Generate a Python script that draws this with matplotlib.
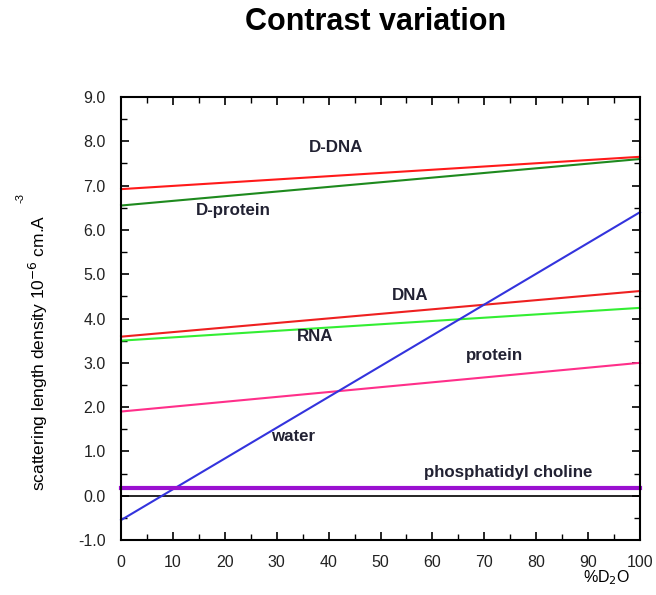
import matplotlib
matplotlib.use('Agg')
import matplotlib.pyplot as plt
from matplotlib.ticker import MultipleLocator, FormatStrFormatter

plt.rcParams['font.family'] = ['Liberation Sans', 'DejaVu Sans']

# %D2O at the two ends of each line
d2o = [0, 100]

names = ['D-DNA', 'D-protein', 'DNA', 'RNA', 'protein', 'water', 'phosphatidyl choline']
sld_0 = [6.92, 6.55, 3.59, 3.50, 1.90, -0.55, 0.18]
sld_100 = [7.65, 7.60, 4.62, 4.24, 3.00, 6.40, 0.18]
colors = ['#ff1a1a', '#1e8a1e', '#ee2020', '#33ee33', '#ff2f8a', '#3333dd', '#9a10d0']
widths = [1.5, 1.5, 1.5, 1.5, 1.5, 1.5, 3.0]

# where the name of each line is written (data coords)
label_x = [41.4, 21.6, 55.7, 37.4, 72.0, 33.1, 74.6]
label_y = [7.86, 6.43, 4.51, 3.59, 3.16, 1.33, 0.52]

fig = plt.figure(figsize=(6.56, 5.95), dpi=100)
ax = fig.add_axes([0.1845, 0.0924, 0.7911, 0.7446])

ax.axhline(0, color='black', lw=1.2, zorder=1)

for n, a, b, c, w in zip(names, sld_0, sld_100, colors, widths):
    ax.plot(d2o, [a, b], color=c, lw=w, zorder=2, clip_on=False)

for n, x, y in zip(names, label_x, label_y):
    ax.text(x, y, n, ha='center', va='center', fontsize=12.2, fontweight='bold',
            color='#222233')

ax.set_xlim(0, 100)
ax.set_ylim(-1, 9)
ax.xaxis.set_major_locator(MultipleLocator(10))
ax.xaxis.set_minor_locator(MultipleLocator(5))
ax.yaxis.set_major_locator(MultipleLocator(1))
ax.yaxis.set_minor_locator(MultipleLocator(0.5))
ax.yaxis.set_major_formatter(FormatStrFormatter('%.1f'))
ax.tick_params(which='both', direction='in', top=True, right=True, labelsize=11.5,
               colors='black', labelcolor='#222222')
ax.tick_params(which='major', length=6, width=1.2, pad=11)
ax.tick_params(which='minor', length=4, width=1.0)
for s in ax.spines.values():
    s.set_linewidth(1.5)

fig.text(0.058, 0.407, 'scattering length density 10$^{-6}$ cm.A', rotation=90,
         fontsize=12.5, ha='center', va='center')
fig.text(0.032, 0.667, '-3', rotation=90, fontsize=8, ha='center', va='center')
fig.text(0.961, 0.029, '%D$_2$O', fontsize=11.5, ha='right', va='center')

fig.text(0.572, 0.963, 'Contrast variation', ha='center', va='center',
         fontsize=22, fontweight='bold')

fig.savefig('out.png', dpi=100)
plt.close(fig)
